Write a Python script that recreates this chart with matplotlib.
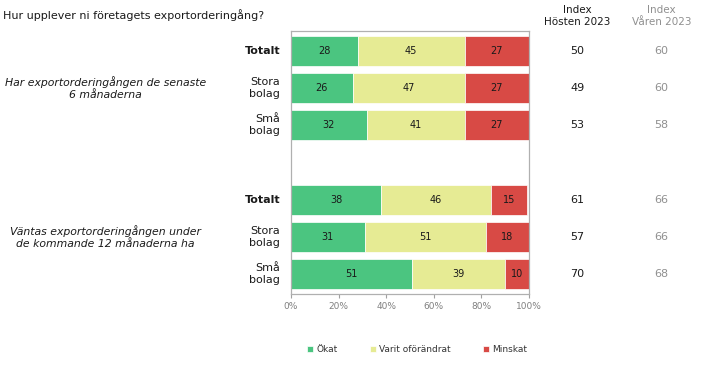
import matplotlib.pyplot as plt
import numpy as np

categories = ['Totalt', 'Stora\nbolag', 'Små\nbolag', '', 'Totalt', 'Stora\nbolag', 'Små\nbolag']
okat = [28, 26, 32, 0, 38, 31, 51]
oforandrat = [45, 47, 41, 0, 46, 51, 39]
minskat = [27, 27, 27, 0, 15, 18, 10]
index_host = ['50', '49', '53', '', '61', '57', '70']
index_var = ['60', '60', '58', '', '66', '66', '68']
series_names = ['Ökat', 'Varit oförändrat', 'Minskat']
group_labels = ['Har exportorderingången de senaste\n6 månaderna',
                'Väntas exportorderingången under\nde kommande 12 månaderna ha']

colors = ['#4BC580', '#E6EB94', '#D84A45']

fig = plt.figure(figsize=(7.01, 3.70), dpi=100)
ax = fig.add_axes([0.415, 0.2054, 0.3395, 0.7108])

y = np.arange(len(categories))
left = np.zeros(len(categories))
for vals, col, name in zip([okat, oforandrat, minskat], colors, series_names):
    vals = np.array(vals)
    ax.barh(y, vals, left=left, height=0.8, color=col, edgecolor='white',
            linewidth=0.5, label=name)
    for yi, v, l in zip(y, vals, left):
        if v > 0:
            ax.text(l + v / 2, yi, str(v), ha='center', va='center', fontsize=7, color='#1a1a1a')
    left = left + vals

ax.set_xlim(0, 100)
ax.set_ylim(6.53, -0.53)
ax.set_xticks(range(0, 101, 20))
ax.set_xticklabels([f'{t}%' for t in range(0, 101, 20)], fontsize=6.5, color='#808080')
ax.tick_params(axis='x', length=3, color='#a0a0a0', pad=3)
ax.set_yticks([])
for s in ax.spines.values():
    s.set_color('#b0b0b0')
    s.set_linewidth(0.9)

# kategorier
for yi, c in zip(y, categories):
    if not c:
        continue
    ax.text(-4.5, yi, c, ha='right', va='center', fontsize=8,
            fontweight='bold' if c == 'Totalt' else 'normal',
            color='#1a1a1a', linespacing=1.3)

# gruppetiketter
for gy, g in zip([1, 5], group_labels):
    yy = ax.transData.transform((0, gy))[1]
    fy = fig.transFigure.inverted().transform((0, yy))[1]
    fig.text(0.15, fy, g, ha='center', va='center', fontsize=7.8, style='italic',
             color='#1a1a1a', linespacing=1.2)

# indexkolumner
for yi, h, v in zip(y, index_host, index_var):
    if not h:
        continue
    yy = ax.transData.transform((0, yi))[1]
    fy = fig.transFigure.inverted().transform((0, yy))[1]
    fig.text(0.824, fy, h, ha='center', va='center', fontsize=8, color='#1a1a1a')
    fig.text(0.944, fy, v, ha='center', va='center', fontsize=8, color='#909090')

fig.text(0.824, 0.958, 'Index\nHösten 2023', ha='center', va='center', fontsize=7.5,
         color='#1a1a1a', linespacing=1.25)
fig.text(0.944, 0.958, 'Index\nVåren 2023', ha='center', va='center', fontsize=7.5,
         color='#909090', linespacing=1.25)

fig.text(0.004, 0.96, 'Hur upplever ni företagets exportorderingång?', ha='left',
         va='center', fontsize=8, color='#1a1a1a')

leg = fig.legend(loc='center', bbox_to_anchor=(0.595, 0.055), ncol=3, frameon=False,
                 fontsize=6.5, handlelength=0.7, handleheight=0.7, handletextpad=0.3,
                 columnspacing=3.6)
for t in leg.get_texts():
    t.set_color('#333333')

fig.savefig('out.png', dpi=100, facecolor='white')
